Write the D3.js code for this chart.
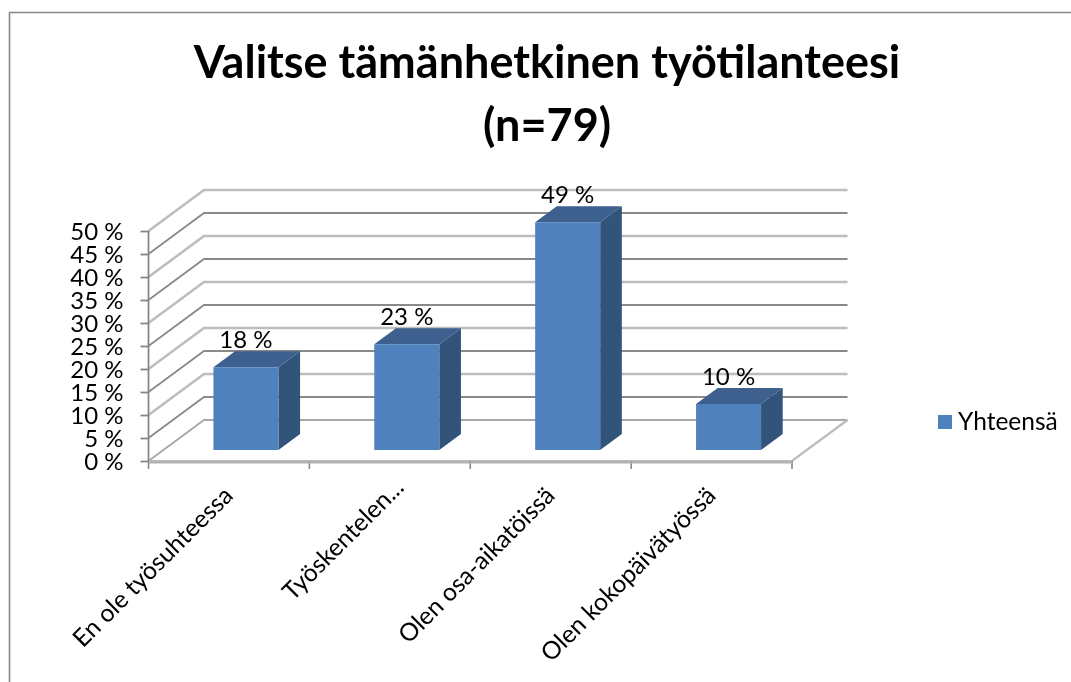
<!DOCTYPE html>
<html><head><meta charset="utf-8">
<script src="https://cdn.jsdelivr.net/npm/d3@7"></script>
<style>html,body{margin:0;padding:0;background:#fff}svg{display:block}text{font-family:Lato,"Open Sans",sans-serif;fill:#000}</style>
</head><body><svg id="c" width="1071" height="682"></svg>
<script>
const categories = ["En ole työsuhteessa","Työskentelen...","Olen osa-aikatöissä","Olen kokopäivätyössä"];
const values = [18,23,49.5,10];
const valueLabels = ["18 %","23 %","49 %","10 %"];
const yTicks = [0,5,10,15,20,25,30,35,40,45,50];
const seriesName = "Yhteensä";
const titleLines = ["Valitse tämänhetkinen työtilanteesi","(n=79)"];

const svg = d3.select("#c");
svg.append("defs").append("filter").attr("id","soft")
  .append("feGaussianBlur").attr("stdDeviation",0.45);
const x = d3.scaleBand().domain(categories).range([148.5,792]);
const y = d3.scaleLinear().domain([0,50]).range([461,231]);
const dx = d3.scaleLinear().domain([0,1]).range([0,55.5]);
const dy = d3.scaleLinear().domain([0,1]).range([0,-41]);
const P = (px,v,d)=>[px+dx(d), y(v)+dy(d)];
const line = d3.line();
const barW = 65, dNear = 0.27, dFar = 0.66;

const g = svg.append("g").attr("filter","url(#soft)");
g.append("path").attr("d","M9.5,682V12.5H1071").attr("fill","none").attr("stroke","#868686").attr("stroke-width",1.6);

yTicks.forEach(t=>{
  const c = t%10===5 ? "#8a8a8a" : "#bdbdbd";
  const w = t%10===5 ? 1.8 : 2.6;
  g.append("path").attr("d",line([P(148.5,t,0),P(148.5,t,1),P(792,t,1)]))
   .attr("fill","none").attr("stroke",t===0?"#a8a8a8":c).attr("stroke-width",t===0?1.8:w);
});
g.append("path").attr("d",line([P(148.5,0,0),P(792,0,0),P(792,0,1)])).attr("fill","none").attr("stroke","#bbb").attr("stroke-width",2.2);

const yAxis = d3.axisLeft(y).tickValues(yTicks).tickSize(8).tickFormat(d=>d+" %").tickPadding(17);
const ya = g.append("g").attr("transform","translate(148.5,0)").call(yAxis);
ya.selectAll("line,path").attr("stroke","#868686").attr("stroke-width",1.8);
ya.select(".domain").attr("d","M0,231V461");
ya.selectAll("text").attr("font-size",24).attr("dy","0.34em").attr("fill","#000").style("font-family","Lato");

const xt = g.append("g");
xt.selectAll("line").data(d3.range(5)).join("line")
  .attr("x1",i=>148.5+i*x.step()).attr("x2",i=>148.5+i*x.step())
  .attr("y1",y(0)).attr("y2",y(0)+8).attr("stroke","#868686").attr("stroke-width",1.6);
xt.append("path").attr("d",line([P(148.5,0,0),P(792,0,0)])).attr("transform","translate(0,1.5)").attr("stroke","#b0b0b0").attr("stroke-width",2.2);

const bars = g.selectAll(".bar").data(categories.map((c,i)=>({c,v:values[i],l:valueLabels[i]}))).join("g");
const X0 = d=>x(d.c)+x.bandwidth()/2-barW/2+2;
bars.append("path").attr("fill","#31527a").attr("d",d=>{const a=X0(d)+barW;
  return line([P(a,0,dNear),P(a,d.v,dNear),P(a,d.v,dFar),P(a,0,dFar)])+"Z";});
bars.append("path").attr("fill","#3c618f").attr("d",d=>{const a=X0(d);
  return line([P(a,d.v,dNear),P(a+barW,d.v,dNear),P(a+barW,d.v,dFar),P(a,d.v,dFar)])+"Z";});
bars.append("path").attr("fill","#4f81bd").attr("d",d=>{const a=X0(d);
  return line([P(a,0,dNear),P(a+barW,0,dNear),P(a+barW,d.v,dNear),P(a,d.v,dNear)])+"Z";});
bars.append("text").attr("text-anchor","middle").attr("font-size",24)
  .attr("x",d=>P(X0(d)+barW/2,d.v,dNear)[0])
  .attr("y",d=>P(0,d.v,dFar)[1]-3)
  .text(d=>d.l);

g.selectAll(".cat").data(categories).join("text").attr("text-anchor","end").attr("font-size",24.6)
  .attr("transform",d=>{
    const trunc = d.endsWith("...") ? 1 : 0;
    return `translate(${x(d)+x.bandwidth()/2+5.5+trunc*10},${y(0)+36-trunc*8}) rotate(-45)`;})
  .text(d=>d);

g.selectAll(".t").data(titleLines).join("text").attr("text-anchor","middle").attr("x",547)
  .attr("y",(d,i)=>78+i*63).attr("font-size",45).attr("font-weight",700).text(d=>d);

g.append("rect").attr("x",938).attr("y",415).attr("width",14).attr("height",14).attr("fill","#4f81bd");
g.append("text").attr("x",958).attr("y",430).attr("font-size",24.5).text(seriesName);
</script></body></html>
